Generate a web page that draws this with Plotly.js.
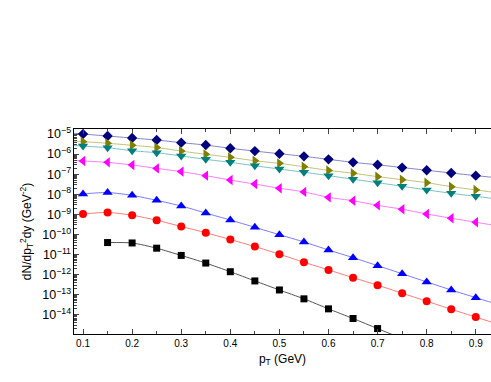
<!DOCTYPE html>
<html>
<head>
<meta charset="utf-8">
<script src="https://cdn.plot.ly/plotly-3.0.1.min.js"></script>
<style>
  body { margin: 0; background: #fff; }
  #chart { width: 491px; height: 382px; }
</style>
</head>
<body>
<div id="chart"></div>
<script>
// pT bins (GeV)
var pt = [0.1, 0.15, 0.2, 0.25, 0.3, 0.35, 0.4, 0.45, 0.5, 0.55, 0.6, 0.65, 0.7, 0.75, 0.8, 0.85, 0.9];
var ptBlack = [0.15, 0.2, 0.25, 0.3, 0.35, 0.4, 0.45, 0.5, 0.55, 0.6, 0.65, 0.7];

// spectra
var navy = [1.0e-5, 7.94e-6, 6.31e-6, 5.01e-6, 3.72e-6, 2.82e-6, 1.95e-6, 1.41e-6, 1.05e-6, 7.76e-7, 5.50e-7, 3.89e-7, 2.95e-7, 2.14e-7, 1.58e-7, 1.15e-7, 8.51e-8];
var olive = [4.17e-6, 3.47e-6, 2.75e-6, 2.14e-6, 1.41e-6, 9.77e-7, 6.92e-7, 4.68e-7, 3.47e-7, 2.34e-7, 1.55e-7, 1.12e-7, 7.59e-8, 5.37e-8, 3.80e-8, 2.40e-8, 1.66e-8];
var teal = [2.51e-6, 2.09e-6, 1.48e-6, 1.17e-6, 8.13e-7, 5.50e-7, 3.89e-7, 2.63e-7, 1.82e-7, 1.26e-7, 8.51e-8, 5.62e-8, 3.80e-8, 2.51e-8, 1.66e-8, 1.12e-8, 7.94e-9];
var magenta = [4.57e-7, 3.89e-7, 2.88e-7, 1.95e-7, 1.35e-7, 8.51e-8, 5.13e-8, 3.24e-8, 2.00e-8, 1.32e-8, 7.08e-9, 4.79e-9, 2.82e-9, 1.82e-9, 1.05e-9, 6.46e-10, 4.07e-10];
var blue = [1.05e-8, 1.23e-8, 8.91e-9, 5.01e-9, 2.63e-9, 1.17e-9, 5.25e-10, 2.29e-10, 9.77e-11, 4.27e-11, 1.70e-11, 7.08e-12, 2.82e-12, 1.12e-12, 4.37e-13, 1.74e-13, 7.24e-14];
var red = [1.05e-9, 1.26e-9, 9.12e-10, 5.13e-10, 2.51e-10, 1.23e-10, 5.62e-11, 2.51e-11, 1.05e-11, 4.17e-12, 1.74e-12, 7.08e-13, 3.02e-13, 1.20e-13, 4.79e-14, 1.91e-14, 7.76e-15];
var black = [3.98e-11, 3.80e-11, 2.09e-11, 9.12e-12, 3.80e-12, 1.41e-12, 4.90e-13, 1.74e-13, 6.31e-14, 2.00e-14, 6.61e-15, 2.09e-15];

// where the fit curves meet the frame edges
var fitLeftX = 0.08, fitRightX = 0.94, fitBlackEndX = 0.75;
var fitLeft = [1.1e-5, 4.5e-6, 2.7e-6, 4.9e-7, 9.3e-9, 9.3e-10];
var fitRight = [6.8e-8, 1.23e-8, 6.0e-9, 2.8e-10, 3.6e-14, 3.8e-15];
var fitBlackEnd = 6.6e-16;

var series = [
  {y: navy, sym: 'diamond', col: '#00007f', line: '#8585c4', size: 8},
  {y: olive, sym: 'triangle-right', col: '#808000', line: '#c2c27a', size: 9},
  {y: teal, sym: 'triangle-down', col: '#007f7f', line: '#7ac2c2', size: 9},
  {y: magenta, sym: 'triangle-left', col: '#ff00ff', line: '#ff7aff', size: 9},
  {y: blue, sym: 'triangle-up', col: '#0000ff', line: '#7a7aff', size: 9},
  {y: red, sym: 'circle', col: '#ff0000', line: '#ff7a7a', size: 8}
];

var data = [];
series.forEach(function(s, i) {
  data.push({
    x: [fitLeftX].concat(pt, [fitRightX]),
    y: [fitLeft[i]].concat(s.y, [fitRight[i]]),
    mode: 'lines',
    line: {color: s.line, width: 1, shape: 'spline', smoothing: 0.6},
    hoverinfo: 'skip'
  });
  data.push({
    x: pt,
    y: s.y,
    mode: 'markers',
    marker: {symbol: s.sym, color: s.col, size: s.size}
  });
});
data.push({
  x: ptBlack.concat([fitBlackEndX]),
  y: black.concat([fitBlackEnd]),
  mode: 'lines',
  line: {color: '#555555', width: 1, shape: 'spline', smoothing: 0.6},
  hoverinfo: 'skip'
});
data.push({
  x: ptBlack,
  y: black,
  mode: 'markers',
  marker: {symbol: 'square', color: '#000000', size: 7}
});

var layout = {
  width: 491,
  height: 382,
  showlegend: false,
  paper_bgcolor: '#fff',
  plot_bgcolor: '#fff',
  margin: {l: 74, r: 0, t: 129, b: 48, pad: 0},
  font: {family: 'Liberation Sans, Arial, sans-serif', color: '#000'},
  xaxis: {
    range: [0.0816, 0.931],
    tickvals: [0.1, 0.2, 0.3, 0.4, 0.5, 0.6, 0.7, 0.8, 0.9],
    ticks: 'inside',
    ticklen: 5,
    tickwidth: 1,
    minor: {ticks: 'inside', ticklen: 3, dtick: 0.05, tick0: 0.05},
    showline: true,
    linecolor: '#000',
    linewidth: 1,
    mirror: 'ticks',
    showgrid: false,
    zeroline: false,
    tickfont: {size: 10},
    title: {text: 'p<sub>T</sub> (GeV)', font: {size: 12}, standoff: 6}
  },
  yaxis: {
    type: 'log',
    range: [-14.95, -4.75],
    dtick: 1,
    exponentformat: 'power',
    ticks: 'inside',
    ticklen: 5,
    tickwidth: 1,
    minor: {ticks: 'inside', ticklen: 3, dtick: 'D1'},
    showline: true,
    linecolor: '#000',
    linewidth: 1,
    showgrid: false,
    zeroline: false,
    tickfont: {size: 10},
    title: {text: 'dN/dp<sub>T</sub><sup>2</sup>dy (GeV<sup>-2</sup>)', font: {size: 12}, standoff: 8}
  }
};

Plotly.newPlot('chart', data, layout, {displayModeBar: false, staticPlot: true});
</script>
</body>
</html>
